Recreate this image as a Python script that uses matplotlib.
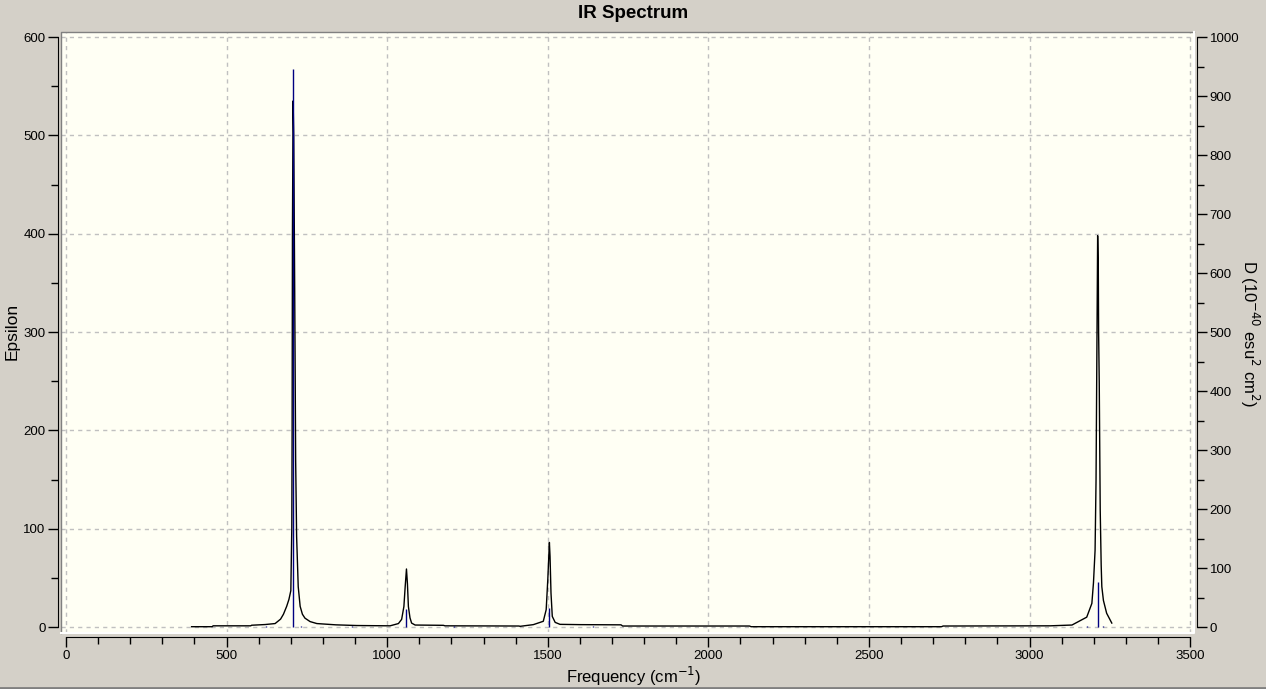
import matplotlib
matplotlib.use('Agg')
import matplotlib.pyplot as plt
from matplotlib.ticker import MultipleLocator
from matplotlib.lines import Line2D

# Broadened spectrum (Epsilon)
curve_freq = [391, 455, 458, 575, 578, 620, 651, 668, 677, 687, 694, 700, 703, 704, 705, 707,
              709, 712, 715, 718, 723, 729, 736, 744, 760, 781, 840, 905,
              1009, 1035, 1045, 1052, 1056, 1060, 1063, 1066, 1071, 1076, 1087, 1175, 1180,
              1410, 1414, 1455, 1486, 1495, 1500, 1505, 1507, 1510, 1514, 1523, 1538, 1601,
              1728, 1733, 2128, 2133, 2726, 2731, 3064, 3132, 3178, 3194, 3199, 3204, 3207,
              3210, 3212, 3214, 3215, 3217, 3220, 3223, 3225, 3230, 3240, 3256]
curve_eps = [0.3, 0.3, 1.2, 1.2, 1.8, 2.5, 3.5, 8, 13, 21, 28, 37, 101, 200, 400, 535,
             500, 344, 169, 92, 41, 21, 13, 9, 5.5, 3.5, 2.2, 1.5,
             1.2, 3.5, 7.8, 20.8, 41, 59, 44, 20.8, 9.3, 4, 2, 1.7, 1.2,
             1.0, 0.7, 2.4, 5.8, 17.6, 48, 86, 72, 34.5, 10.8, 4.7, 2.7, 2.4,
             2.2, 1.0, 1.0, 0.3, 0.3, 1.0, 1.2, 2, 10, 24, 45, 78, 149,
             299, 398, 367, 300, 248, 119, 63, 41, 27, 14, 4]

# Stick intensities (D, right axis)
stick_freq = [623, 708, 732, 890, 1060, 1209, 1505, 1641, 3180, 3212, 3230]
stick_d = [2, 945, 2, 2, 30, 2, 32, 2, 2, 77, 2]

bg = '#d4d0c8'
plt.rcParams['font.family'] = ['Liberation Sans', 'DejaVu Sans']

fig = plt.figure(figsize=(12.66, 6.89), dpi=100, facecolor=bg)
ax = fig.add_axes([61 / 1266, 1 - 633 / 689, (1194 - 61) / 1266, (633 - 32) / 689])
ax.set_facecolor('#fffff4')

ax.plot(curve_freq, curve_eps, color='black', lw=1, zorder=3)

ax.set_xlim(-15.6, 3512)
ax.set_ylim(-6.1, 605.1)
ax.xaxis.set_major_locator(MultipleLocator(500))
ax.xaxis.set_minor_locator(MultipleLocator(100))
ax.yaxis.set_major_locator(MultipleLocator(100))
ax.yaxis.set_minor_locator(MultipleLocator(50))
ax.grid(True, which='major', ls=(0, (3, 3)), color='#c0c0c0', lw=1)
ax.set_axisbelow(True)

for s in ['top', 'right']:
    ax.spines[s].set_visible(False)
ax.spines['left'].set_position(('outward', 2.2))
ax.spines['left'].set_bounds(0, 600)
ax.spines['bottom'].set_position(('outward', 2.9))
ax.spines['bottom'].set_bounds(0, 3500)
ax.tick_params(which='major', length=7, width=1, labelsize=9.5, pad=2)
ax.tick_params(which='minor', length=5, width=1)

# panel border (sunken look)
ax.add_line(Line2D([0, 0, 1], [0, 1, 1], transform=ax.transAxes, color='#808080', lw=1, clip_on=False))
ax.add_line(Line2D([0, 1, 1], [0, 0, 1], transform=ax.transAxes, color='white', lw=1.5, clip_on=False))

ax2 = ax.twinx()
ax2.vlines(stick_freq, 0, stick_d, color='#000080', lw=1, zorder=2)
ax2.set_ylim(-6.1 * 1000 / 600, 605.1 * 1000 / 600)
ax2.yaxis.set_major_locator(MultipleLocator(100))
ax2.yaxis.set_minor_locator(MultipleLocator(50))
for s in ['top', 'left', 'bottom']:
    ax2.spines[s].set_visible(False)
ax2.spines['right'].set_position(('outward', 2.2))
ax2.spines['right'].set_bounds(0, 1000)
ax2.tick_params(which='major', length=7, width=1, labelsize=9.5, pad=2)
ax2.tick_params(which='minor', length=5, width=1)

fig.text(633 / 1266, 1 - 14 / 689, 'IR Spectrum', ha='center', va='center',
         fontsize=13.5, fontweight='bold')
fig.text(12 / 1266, 1 - 331 / 689, 'Epsilon', ha='center', va='center',
         rotation=90, fontsize=12.5)
fig.text(634 / 1266, 1 - 676 / 689, 'Frequency (cm$^{-1}$)', ha='center', va='center',
         fontsize=12)
fig.text(1250 / 1266, 1 - 333 / 689, 'D (10$^{-40}$ esu$^2$ cm$^2$)', ha='center',
         va='center', rotation=-90, fontsize=12)
fig.add_artist(Line2D([0, 1], [0.001, 0.001], color='#808080', lw=2))

fig.savefig('out.png', dpi=100, facecolor=bg)
